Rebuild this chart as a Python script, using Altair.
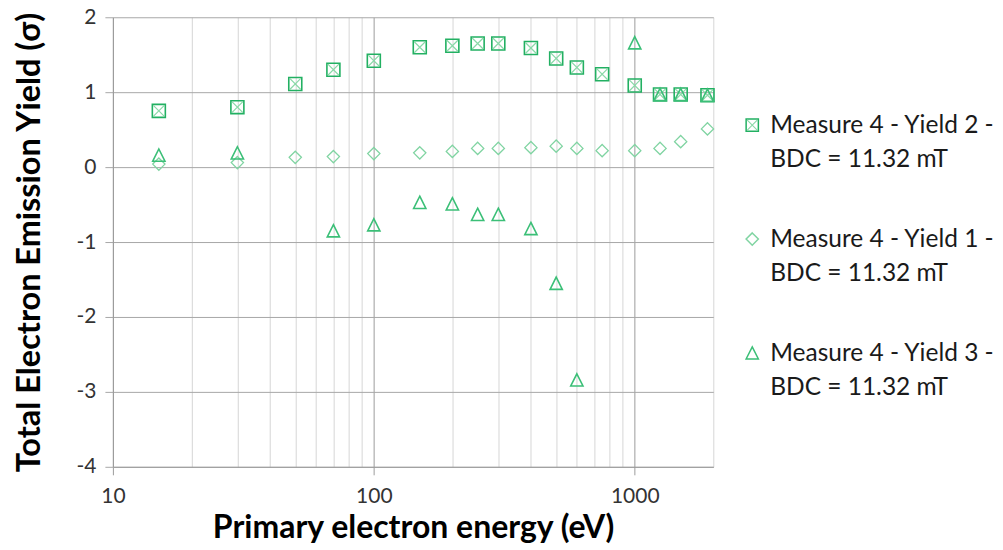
import altair as alt
import pandas as pd

# ---- data ----
energy = [15, 30, 50, 70, 100, 150, 200, 250, 300, 400, 500, 600, 750, 1000, 1250, 1500, 1900]
yield2 = [0.75, 0.80, 1.11, 1.30, 1.42, 1.60, 1.62, 1.65, 1.65, 1.59, 1.45, 1.33, 1.24, 1.09, 0.97, 0.97, 0.96]
yield1 = [0.04, 0.06, 0.13, 0.14, 0.18, 0.19, 0.21, 0.25, 0.25, 0.26, 0.28, 0.25, 0.22, 0.22, 0.25, 0.34, 0.51]
energy3 = [15, 30, 70, 100, 150, 200, 250, 300, 400, 500, 600, 1000, 1250, 1500, 1900]
yield3 = [0.16, 0.19, -0.85, -0.77, -0.47, -0.49, -0.63, -0.63, -0.82, -1.55, -2.84, 1.66, 0.97, 0.97, 0.96]

series_keys = ["y2", "y1", "y3"]
legend_text = ["Measure 4 - Yield 2 -|BDC = 11.32 mT",
               "Measure 4 - Yield 1 -|BDC = 11.32 mT",
               "Measure 4 - Yield 3 -|BDC = 11.32 mT"]

x_ticks = [10, 20, 30, 40, 50, 60, 70, 80, 90,
           100, 200, 300, 400, 500, 600, 700, 800, 900, 1000, 2000]
y_ticks = [-4, -3, -2, -1, 0, 1, 2]

x_title = "Primary electron energy (eV)"
y_title = "Total Electron Emission Yield (σ)"

# ---- styles ----
FONT = "Lato"
SQ = "M-1,-1L1,-1L1,1L-1,1Z"
XP = "M-0.85,-0.85L0.85,0.85M0.85,-0.85L-0.85,0.85"
DI = "M0,-1L1,0L0,1L-1,0Z"
TR = "M0,-1L1,1L-1,1Z"
C_SQ = "#22B062"
C_SQX = "#8AD9A8"
C_DI = "#80D4A2"
C_TR = "#3BBF77"

df2 = pd.DataFrame({"energy": energy, "value": yield2})
df1 = pd.DataFrame({"energy": energy, "value": yield1})
df3 = pd.DataFrame({"energy": energy3, "value": yield3})

major = "datum.value == 10 || datum.value == 100 || datum.value == 1000"

xenc = alt.X(
    "energy:Q",
    scale=alt.Scale(type="log", domain=[10, 2000], nice=False),
    title=x_title,
    axis=alt.Axis(
        values=x_ticks,
        labelExpr=f"({major}) ? '' + datum.value : ''",
        labelOverlap=False,
        labelFlush=False,
        gridColor={"condition": {"test": major, "value": "#9c9c9c"}, "value": "#d6d6d6"},
        tickColor={"condition": {"test": major, "value": "#9c9c9c"}, "value": "transparent"},
        tickSize=8,
        labelPadding=11,
        titlePadding=6,
    ),
)
yenc = alt.Y(
    "value:Q",
    scale=alt.Scale(domain=[-4, 2], nice=False),
    title=y_title,
    axis=alt.Axis(
        values=y_ticks,
        labelExpr="'' + datum.value",
        labelFlush=False,
        gridColor="#a8a8a8",
        tickColor="#a8a8a8",
        tickSize=8,
        labelPadding=9,
        titlePadding=29,
        titleFontSize=32.5,
    ),
)

sq = alt.Chart(df2).mark_point(shape=SQ, size=169, filled=False, stroke=C_SQ, strokeWidth=1.6, opacity=1).encode(x=xenc, y=yenc)
sqx = alt.Chart(df2).mark_point(shape=XP, size=169, filled=False, stroke=C_SQX, strokeWidth=1.2, opacity=1).encode(x=xenc, y=yenc)
di = alt.Chart(df1).mark_point(shape=DI, size=150, filled=False, stroke=C_DI, strokeWidth=1.3, opacity=1).encode(x=xenc, y=yenc)
tr = alt.Chart(df3).mark_point(shape=TR, size=150, filled=False, stroke=C_TR, strokeWidth=1.6, opacity=1).encode(x=xenc, y=yenc)

main = alt.layer(sq, sqx, di, tr).properties(width=601, height=450)

# ---- legend panel ----
leg_df = pd.DataFrame({"key": series_keys, "text": legend_text})
ly = alt.Y("key:N", scale=alt.Scale(domain=series_keys, range=[108, 336], padding=0), axis=None)
leg_sym = alt.Chart(leg_df).mark_point(size=150, filled=False, strokeWidth=1.5, opacity=1).encode(
    x=alt.value(9),
    y=ly,
    shape=alt.Shape("key:N", scale=alt.Scale(domain=series_keys, range=[SQ, DI, TR]), legend=None),
    stroke=alt.Stroke("key:N", scale=alt.Scale(domain=series_keys, range=[C_SQ, C_DI, C_TR]), legend=None),
)
leg_x = alt.Chart(leg_df).transform_filter("datum.key == 'y2'").mark_point(
    shape=XP, size=150, filled=False, stroke=C_SQX, strokeWidth=1.1, opacity=1
).encode(x=alt.value(9), y=ly)
leg_txt = alt.Chart(leg_df).mark_text(
    align="left", baseline="alphabetic", dy=8, lineBreak="|", lineHeight=34,
    font=FONT, fontSize=24.5, color="#1a1a1a"
).encode(x=alt.value(27), y=ly, text="text:N")
legend = alt.layer(leg_sym, leg_x, leg_txt).properties(width=226, height=450)

chart = alt.hconcat(main, legend, spacing=30, bounds="flush").properties(
    padding={"left": 6, "top": -2, "right": 0, "bottom": 0}
).configure_view(stroke=None).configure_axis(
    labelFont=FONT, labelFontSize=21, labelColor="#333333",
    titleFont=FONT, titleFontSize=32, titleFontWeight="bold", titleColor="#000000",
    domainColor="#9c9c9c", gridWidth=1, domainWidth=1,
)

chart.save("out.html", embed_options={"renderer": "svg", "actions": False})
